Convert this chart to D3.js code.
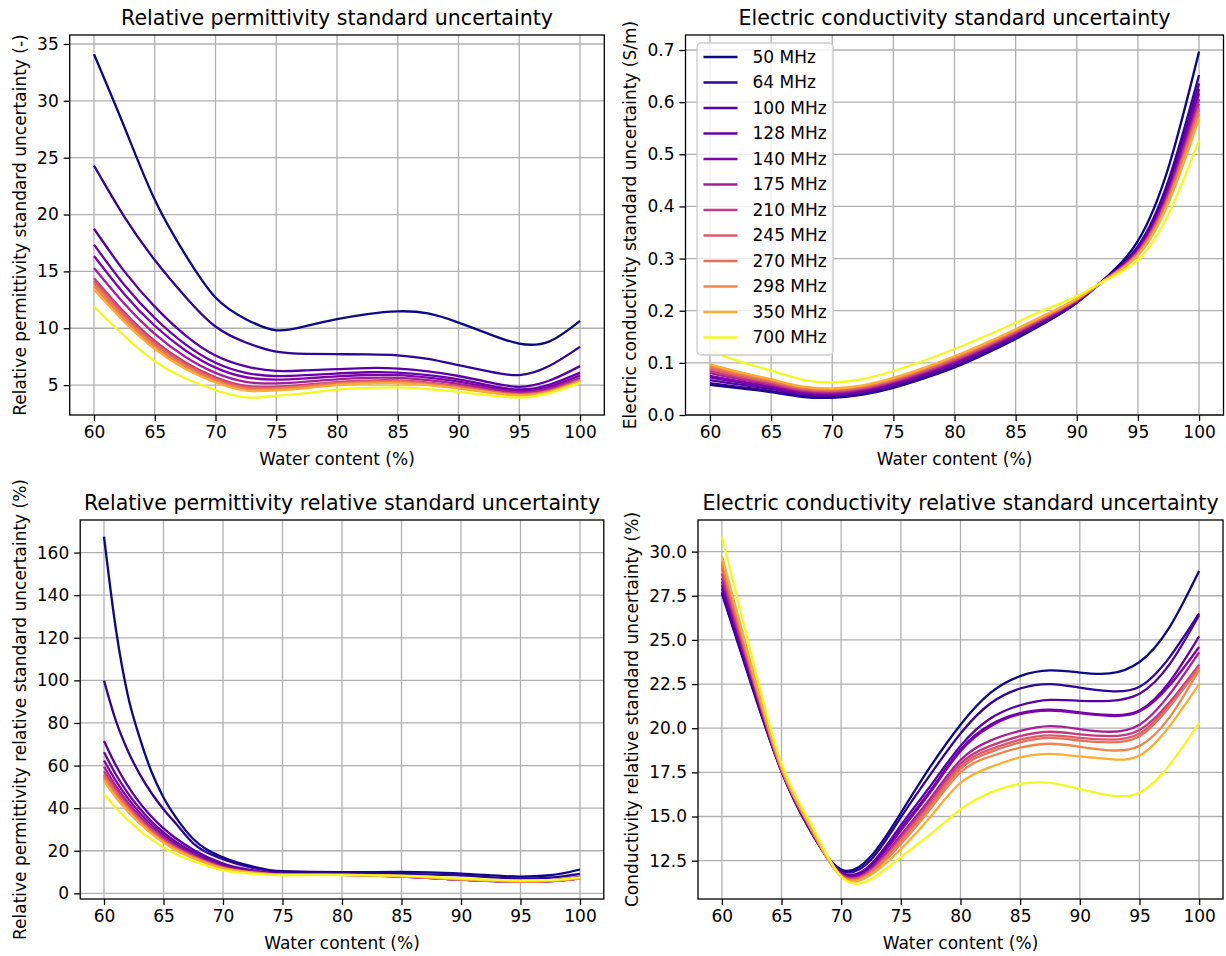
<!DOCTYPE html>
<html><head><meta charset="utf-8">
<script src="https://cdn.jsdelivr.net/npm/d3@7"></script>
<style>body{margin:0;background:#fff} svg text{font-family:"DejaVu Sans",sans-serif;}</style>
</head><body><svg id="c" width="1226" height="956"></svg>
<script>
// ---------------- data ----------------
const freqs = ["50 MHz","64 MHz","100 MHz","128 MHz","140 MHz","175 MHz","210 MHz","245 MHz","270 MHz","298 MHz","350 MHz","700 MHz"];
const waterX = [60,62.5,65,67.5,70,72.5,75,77.5,80,82.5,85,87.5,90,92.5,95,97.5,100];
const waterXSteep = [60,61,62,63,64,65,66,67.5,70,72.5,75,80,85,90,95,97.5,100];
const xTicks = [60,65,70,75,80,85,90,95,100];

// Relative permittivity standard uncertainty (-), one row per frequency
const permSU = [
  [34.1,27.7,21.3,16.5,12.7,10.8,9.82,10.2,10.8,11.25,11.49,11.3,10.5,9.5,8.65,8.85,10.64],
  [24.3,19.8,16.0,12.8,10.15,8.75,7.95,7.75,7.72,7.7,7.62,7.3,6.75,6.2,5.88,6.7,8.36],
  [18.75,15.0,11.9,9.4,7.6,6.65,6.25,6.3,6.4,6.5,6.45,6.2,5.8,5.25,4.85,5.4,6.67],
  [17.35,13.8,10.9,8.6,6.96,6.08,5.79,5.88,6.02,6.13,6.1,5.87,5.5,4.98,4.62,5.05,6.1],
  [16.35,13.0,10.22,8.07,6.54,5.69,5.48,5.6,5.77,5.89,5.87,5.65,5.31,4.82,4.48,4.85,5.85],
  [15.3,12.15,9.5,7.5,6.08,5.29,5.15,5.3,5.5,5.63,5.63,5.43,5.1,4.67,4.35,4.7,5.65],
  [14.4,11.4,8.88,7.0,5.68,4.93,4.86,5.04,5.27,5.4,5.41,5.22,4.92,4.52,4.22,4.55,5.5],
  [14.15,11.18,8.68,6.85,5.56,4.82,4.78,4.96,5.19,5.33,5.34,5.16,4.86,4.48,4.18,4.5,5.45],
  [13.95,11.0,8.54,6.74,5.47,4.74,4.71,4.9,5.14,5.28,5.3,5.12,4.82,4.44,4.15,4.47,5.4],
  [13.7,10.78,8.35,6.59,5.35,4.63,4.62,4.82,5.07,5.2,5.23,5.05,4.76,4.4,4.11,4.43,5.35],
  [13.4,10.55,8.16,6.44,5.23,4.52,4.53,4.74,5.0,5.13,5.16,4.99,4.7,4.35,4.07,4.39,5.3],
  [11.9,9.3,7.1,5.6,4.56,3.92,4.05,4.3,4.6,4.75,4.8,4.65,4.4,4.1,3.9,4.3,5.2]
];
const permSUTicks = [5,10,15,20,25,30,35];

// Electric conductivity standard uncertainty (S/m)
const condSU = [
  [0.058,0.051,0.044,0.035,0.033,0.039,0.052,0.070,0.091,0.117,0.146,0.178,0.215,0.266,0.334,0.475,0.697],
  [0.0613,0.0536,0.046,0.0367,0.0345,0.0405,0.0536,0.0717,0.0928,0.1187,0.1476,0.1793,0.2157,0.2643,0.3238,0.4502,0.652],
  [0.0671,0.0581,0.0497,0.0396,0.0372,0.0432,0.0565,0.0748,0.096,0.1218,0.1503,0.1815,0.2168,0.2638,0.3203,0.4417,0.636],
  [0.0723,0.0622,0.053,0.0423,0.0396,0.0456,0.059,0.0775,0.0989,0.1245,0.1528,0.1835,0.2179,0.2634,0.3181,0.4363,0.625],
  [0.0749,0.0643,0.0547,0.0436,0.0408,0.0468,0.0603,0.0788,0.1004,0.1258,0.1541,0.1845,0.2184,0.2632,0.3166,0.4327,0.617],
  [0.0801,0.0683,0.0579,0.0462,0.0432,0.0492,0.0629,0.0816,0.1032,0.1286,0.1565,0.1865,0.2194,0.2628,0.314,0.4264,0.606],
  [0.084,0.0714,0.0604,0.0482,0.045,0.051,0.0648,0.0836,0.1054,0.1306,0.1584,0.188,0.2202,0.2625,0.3122,0.4219,0.597],
  [0.0879,0.0745,0.0629,0.0502,0.0468,0.0528,0.0667,0.0856,0.1076,0.1326,0.1603,0.1895,0.221,0.2622,0.3107,0.4183,0.59],
  [0.0912,0.077,0.0649,0.0518,0.0483,0.0543,0.0683,0.0873,0.1094,0.1343,0.1618,0.1908,0.2216,0.262,0.3096,0.4156,0.585],
  [0.0944,0.0796,0.067,0.0535,0.0498,0.0558,0.0699,0.089,0.1112,0.136,0.1634,0.192,0.2223,0.2618,0.3081,0.412,0.578],
  [0.097,0.0816,0.0686,0.0548,0.051,0.057,0.0712,0.0904,0.1126,0.1374,0.1646,0.193,0.2228,0.2614,0.3059,0.4066,0.568],
  [0.1228,0.102,0.085,0.068,0.0627,0.069,0.0844,0.104,0.1266,0.151,0.177,0.203,0.228,0.26,0.297,0.385,0.527]
];
const condSUTicks = [0,0.1,0.2,0.3,0.4,0.5,0.6,0.7];

// Relative permittivity relative standard uncertainty (%), sampled on waterXSteep
const permRSU = [
  [167.5,124,93,73,57,45,36,25.5,16.9,12.6,10.4,9.9,10.1,9.3,7.9,8.5,11.2],
  [99.9,81,67,56,47,39.5,33,23.5,16.0,12.0,10.0,9.4,9.1,8.4,7.0,7.4,9.1],
  [71.5,60,50.5,42.5,36,30.5,26,20.5,14,10.8,9.3,8.9,8.2,6.6,5.6,6.0,7.8],
  [66.3,55.8,47.1,39.8,33.7,28.6,24.4,19.4,13.3,10.5,9.1,8.8,8.0,6.5,5.5,5.8,7.2],
  [62.4,52.8,44.7,37.8,32.1,27.3,23.3,18.6,12.9,10.2,9.0,8.75,7.9,6.45,5.45,5.7,7.0],
  [59.5,50.4,42.8,36.3,30.8,26.2,22.4,18.0,12.5,10.0,8.9,8.7,7.85,6.4,5.45,5.7,6.9],
  [57.4,48.8,41.5,35.2,30.0,25.5,21.8,17.5,12.2,9.9,8.85,8.7,7.9,6.45,5.5,5.75,7.0],
  [55.9,47.6,40.6,34.4,29.3,24.9,21.4,17.2,12.0,9.8,8.8,8.7,7.95,6.5,5.55,5.8,7.05],
  [55.0,46.8,40.0,33.9,28.9,24.6,21.1,17.0,11.9,9.75,8.75,8.7,8.0,6.55,5.6,5.85,7.1],
  [53.9,46.0,39.3,33.4,28.4,24.2,20.8,16.8,11.8,9.7,8.7,8.65,8.05,6.6,5.65,5.9,7.15],
  [52.8,45.0,38.5,32.8,27.9,23.8,20.4,16.5,11.6,9.6,8.7,8.65,8.1,6.7,5.75,6.0,7.2],
  [46.5,40,34.5,29.5,25.2,21.5,18.5,15.2,10.8,9.2,8.5,8.6,8.3,7.0,6.0,6.2,7.5]
];
const permRSUTicks = [0,20,40,60,80,100,120,140,160];

// Electric conductivity relative standard uncertainty (%)
const condRSU = [
  [27.64,22.4,17.55,14.1,12.0,12.75,15.2,17.85,20.2,22.0,22.95,23.27,23.15,23.1,23.75,25.7,28.9],
  [27.7,22.5,17.55,14.1,11.95,12.55,14.95,17.4,19.7,21.4,22.25,22.5,22.3,22.1,22.35,24.0,26.5],
  [27.9,22.6,17.6,14.15,11.85,12.3,14.5,16.75,19.0,20.55,21.3,21.6,21.55,21.55,21.95,23.6,26.4],
  [28.1,22.7,17.6,14.15,11.8,12.2,14.3,16.5,18.8,20.2,20.85,21.05,20.9,20.75,21.0,22.6,25.2],
  [28.3,22.8,17.6,14.2,11.78,12.15,14.2,16.4,18.7,20.1,20.8,21.0,20.85,20.7,20.95,22.4,24.6],
  [28.5,22.9,17.65,14.2,11.72,12.0,13.95,16.05,18.2,19.3,19.85,20.12,19.95,19.8,20.2,21.9,24.3],
  [28.77,23.0,17.65,14.25,11.7,11.95,13.8,15.85,18.0,19.0,19.55,19.8,19.65,19.55,19.9,21.45,23.6],
  [29.06,23.1,17.7,14.25,11.68,11.9,13.7,15.75,17.85,18.8,19.35,19.6,19.45,19.35,19.7,21.3,23.5],
  [29.25,23.2,17.7,14.3,11.65,11.85,13.6,15.6,17.7,18.65,19.2,19.45,19.3,19.2,19.55,21.2,23.4],
  [29.43,23.3,17.75,14.3,11.63,11.8,13.45,15.45,17.5,18.4,18.9,19.12,18.95,18.75,19.0,20.6,23.3],
  [29.75,23.5,17.8,14.35,11.6,11.7,13.15,15.0,16.9,17.8,18.35,18.55,18.4,18.25,18.45,20.1,22.5],
  [30.85,24.1,18.0,14.55,11.6,11.45,12.7,14.0,15.4,16.35,16.85,16.9,16.55,16.2,16.35,17.9,20.3]
];
const condRSUTicks = [12.5,15,17.5,20,22.5,25,27.5,30];

// ---------------- styles ----------------
const plasmaPos = [0,0.06,0.15,0.2,0.25,0.36,0.46,0.57,0.63,0.7,0.82,1.0];
const colors = plasmaPos.map(t => d3.interpolatePlasma(t));
const FONT = "DejaVu Sans, sans-serif";
const TICK_FS = 17, TITLE_FS = 20.6;

const svg = d3.select("#c");

const panels = [
  {title:"Relative permittivity standard uncertainty", ylabel:"Relative permittivity standard uncertainty (-)",
   xs:waterX, series:permSU, yTicks:permSUTicks, fmt:d3.format("d"), yDomain:[2.37,35.79], curve:d3.curveNatural,
   box:{left:69.7,right:604.3,top:35,bottom:415}},
  {title:"Electric conductivity standard uncertainty", ylabel:"Electric conductivity standard uncertainty (S/m)",
   xs:waterX, series:condSU, yTicks:condSUTicks, fmt:d3.format(".1f"), yDomain:[0,0.7288], curve:d3.curveNatural,
   box:{left:685.5,right:1223.5,top:35,bottom:415}, legend:true},
  {title:"Relative permittivity relative standard uncertainty", ylabel:"Relative permittivity relative standard uncertainty (%)",
   xs:waterXSteep, series:permRSU, yTicks:permRSUTicks, fmt:d3.format("d"), yDomain:[-2.65,175.3], curve:d3.curveMonotoneX,
   box:{left:80.2,right:603.8,top:520,bottom:899}},
  {title:"Electric conductivity relative standard uncertainty", ylabel:"Conductivity relative standard uncertainty (%)",
   xs:waterX, series:condRSU, yTicks:condRSUTicks, fmt:d3.format(".1f"), yDomain:[10.33,31.79], curve:d3.curveNatural,
   box:{left:698,right:1223,top:520,bottom:899}}
];

panels.forEach(p => {
  const b = p.box;
  const g = svg.append("g");
  const x = d3.scaleLinear().domain([58,102]).range([b.left,b.right]);
  const y = d3.scaleLinear().domain(p.yDomain).range([b.bottom,b.top]);

  // grid
  g.append("g").selectAll("line").data(xTicks).join("line")
    .attr("x1",d=>x(d)).attr("x2",d=>x(d)).attr("y1",b.top).attr("y2",b.bottom)
    .attr("stroke","#b0b0b0").attr("stroke-width",1.3);
  g.append("g").selectAll("line").data(p.yTicks).join("line")
    .attr("y1",d=>y(d)).attr("y2",d=>y(d)).attr("x1",b.left).attr("x2",b.right)
    .attr("stroke","#b0b0b0").attr("stroke-width",1.3);

  // curves
  const line = d3.line().x((d,i)=>x(p.xs[i])).y(d=>y(d)).curve(p.curve);
  g.append("g").selectAll("path").data(p.series).join("path")
    .attr("d", d=>line(d)).attr("fill","none")
    .attr("stroke",(d,i)=>colors[i]).attr("stroke-width",2.3)
    .attr("stroke-linejoin","round").attr("stroke-linecap","butt");

  // axes
  const xa = g.append("g").attr("transform",`translate(0,${b.bottom})`)
    .call(d3.axisBottom(x).tickValues(xTicks).tickSize(6).tickPadding(5));
  const ya = g.append("g").attr("transform",`translate(${b.left},0)`)
    .call(d3.axisLeft(y).tickValues(p.yTicks).tickFormat(p.fmt).tickSize(6).tickPadding(5));
  [xa,ya].forEach(a=>{
    a.attr("font-size",TICK_FS).attr("font-family",FONT);
    a.select(".domain").remove();
    a.selectAll(".tick line").attr("stroke","#000").attr("stroke-width",1.3);
    a.selectAll(".tick text").attr("fill","#000");
  });

  // frame
  g.append("rect").attr("x",b.left).attr("y",b.top).attr("width",b.right-b.left).attr("height",b.bottom-b.top)
    .attr("fill","none").attr("stroke","#000").attr("stroke-width",1.3);

  // title
  g.append("text").attr("x",(b.left+b.right)/2).attr("y",b.top-10).attr("text-anchor","middle")
    .attr("font-size",TITLE_FS).attr("fill","#000").text(p.title);
  // x label
  g.append("text").attr("x",(b.left+b.right)/2).attr("y",b.bottom+50).attr("text-anchor","middle")
    .attr("font-size",TICK_FS).attr("fill","#000").text("Water content (%)");
  // y label
  const bb = ya.node().getBBox();
  const lx = b.left + bb.x - 11;
  const ly = (b.top+b.bottom)/2;
  g.append("text").attr("transform",`translate(${lx},${ly}) rotate(-90)`).attr("text-anchor","middle")
    .attr("font-size",TICK_FS).attr("fill","#000").text(p.ylabel);

  // legend
  if (p.legend) {
    const lg = g.append("g");
    lg.append("rect").attr("x",b.left+11.5).attr("y",b.top+8).attr("width",136).attr("height",312)
      .attr("rx",4).attr("fill","#fff").attr("fill-opacity",0.8).attr("stroke","#cccccc").attr("stroke-width",1.3);
    const items = lg.selectAll("g").data(freqs).join("g")
      .attr("transform",(d,i)=>`translate(${b.left+18},${b.top+22+i*25.5})`);
    items.append("line").attr("x1",0).attr("x2",34).attr("stroke",(d,i)=>colors[i]).attr("stroke-width",2.3);
    items.append("text").attr("x",49).attr("dy","0.35em").attr("font-size",TICK_FS).attr("fill","#000").text(d=>d);
  }
});
</script></body></html>
